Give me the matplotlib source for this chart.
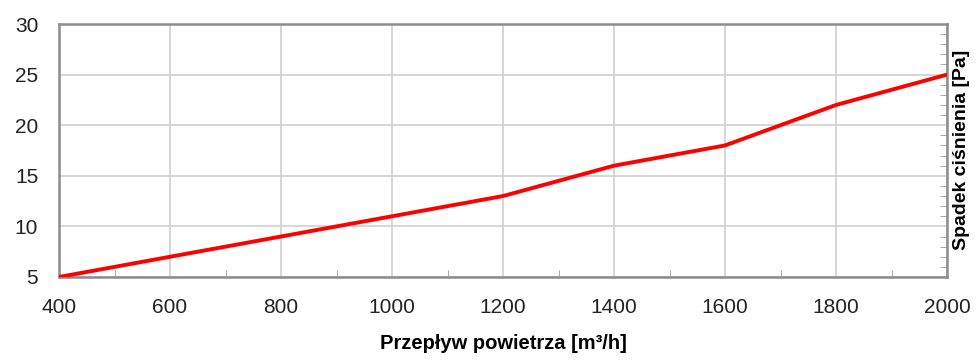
import matplotlib.pyplot as plt
from matplotlib.ticker import MultipleLocator

plt.rcParams['font.family'] = ['Liberation Sans', 'DejaVu Sans']

# Pressure drop vs air flow
przeplyw = [400, 600, 800, 1000, 1200, 1400, 1600, 1800, 2000]
spadek = [5, 7, 9, 11, 13, 16, 18, 22, 25]

fig = plt.figure(figsize=(9.77, 3.6), dpi=100)
ax = fig.add_axes([0.0604, 0.2306, 0.9089, 0.7027])

ax.plot(przeplyw, spadek, color='#ff0000', lw=2.8, solid_capstyle='butt', zorder=3)

ax.set_xlim(400, 2000)
ax.set_ylim(5, 30)
ax.xaxis.set_major_locator(MultipleLocator(200))
ax.xaxis.set_minor_locator(MultipleLocator(100))
ax.yaxis.set_major_locator(MultipleLocator(5))
ax.yaxis.set_minor_locator(MultipleLocator(1))

ax.grid(True, which='major', color='#d0d0d0', lw=1.2)
for s in ax.spines.values():
    s.set_color('#8c8c8c')
    s.set_linewidth(1.8)

ax.tick_params(axis='both', which='major', length=0, labelsize=15, colors='#222222')
ax.tick_params(axis='x', which='major', pad=15)
ax.tick_params(axis='y', which='major', pad=15)
ax.tick_params(axis='x', which='minor', direction='in', length=5, color='#9a9a9a',
               bottom=True, top=False)
ax.tick_params(axis='y', which='minor', direction='in', length=5, color='#9a9a9a',
               left=False, right=True)

fig.text(0.515, 0.045, 'Przepływ powietrza [m³/h]', fontsize=14.5,
         fontweight='bold', ha='center', va='center')
fig.text(0.984, 0.583, 'Spadek ciśnienia [Pa]', rotation=90, fontsize=14,
         fontweight='bold', ha='center', va='center')

fig.savefig('out.png', dpi=100)
